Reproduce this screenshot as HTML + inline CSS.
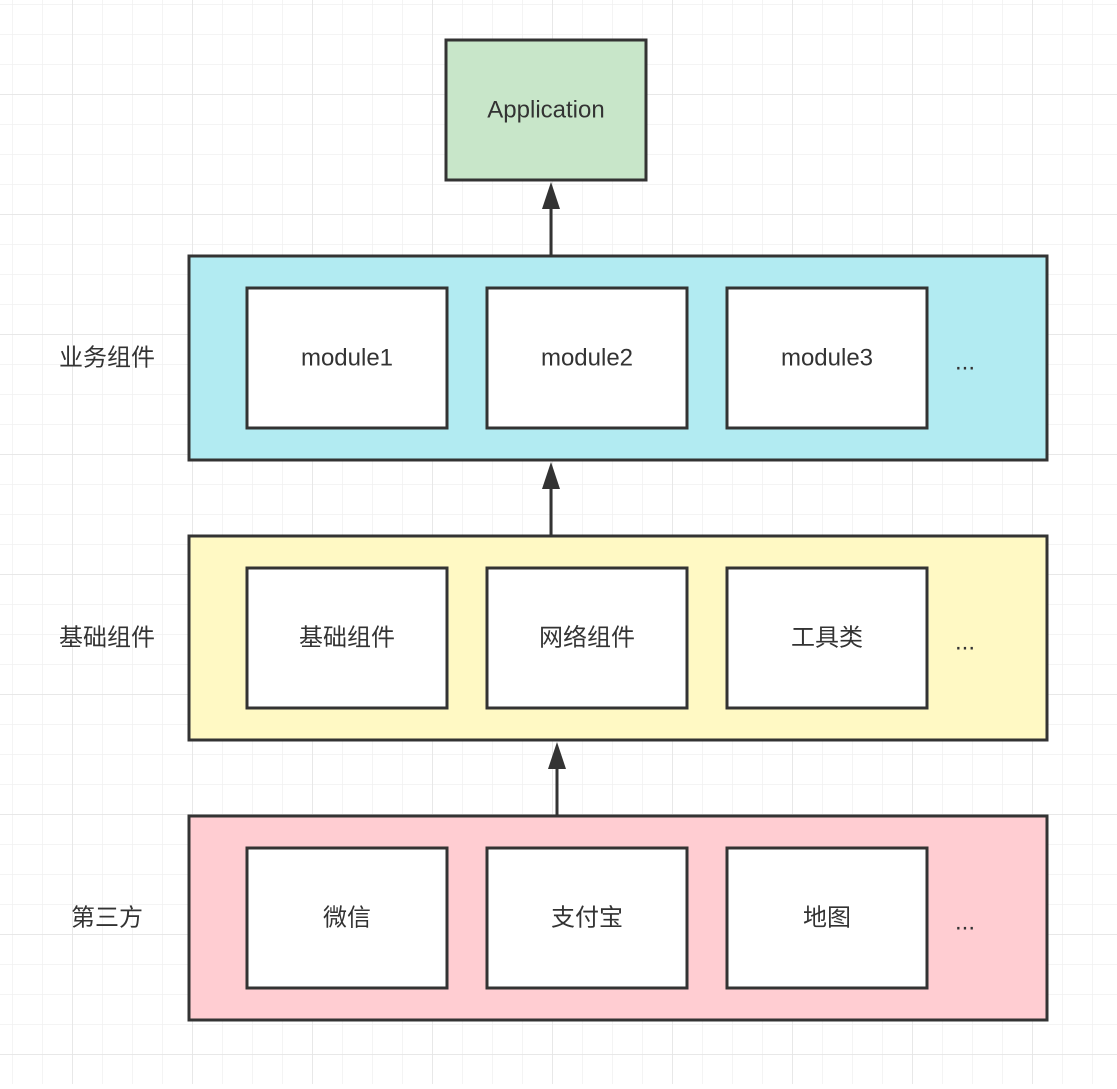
<!DOCTYPE html>
<html><head><meta charset="utf-8"><style>
body{margin:0;width:1117px;height:1084px;overflow:hidden;background:#fff}
</style></head><body>
<svg width="1117" height="1084" xmlns="http://www.w3.org/2000/svg" font-family="Liberation Sans, Noto Sans CJK SC, sans-serif">
<defs>
<pattern id="g" x="12" y="4" width="30" height="30" patternUnits="userSpaceOnUse">
<path d="M0 0H30M0 0V30" stroke="#f0f0f0" stroke-width="1.5" fill="none"/>
</pattern>
<pattern id="G" x="72" y="94" width="120" height="120" patternUnits="userSpaceOnUse">
<path d="M0 0H120M0 0V120" stroke="#e4e4e4" stroke-width="1.5" fill="none"/>
</pattern>
</defs>
<rect width="1117" height="1084" fill="url(#g)"/>
<rect width="1117" height="1084" fill="url(#G)"/>
<g stroke="#333" stroke-width="3">
<rect x="446" y="40" width="200" height="140" fill="#c8e6c9"/>
<rect x="189" y="256" width="858" height="204" fill="#b2ebf2"/>
<rect x="189" y="536" width="858" height="204" fill="#fff9c4"/>
<rect x="189" y="816" width="858" height="204" fill="#ffcdd2"/>
<g fill="#fff">
<rect x="247" y="288" width="200" height="140"/><rect x="487" y="288" width="200" height="140"/><rect x="727" y="288" width="200" height="140"/>
<rect x="247" y="568" width="200" height="140"/><rect x="487" y="568" width="200" height="140"/><rect x="727" y="568" width="200" height="140"/>
<rect x="247" y="848" width="200" height="140"/><rect x="487" y="848" width="200" height="140"/><rect x="727" y="848" width="200" height="140"/>
</g>
<line x1="551" y1="256" x2="551" y2="205"/>
<line x1="551" y1="536" x2="551" y2="485"/>
<line x1="557" y1="816" x2="557" y2="765"/>
</g>
<g fill="#333">
<path d="M551 182 L560 209 L542 209Z"/>
<path d="M551 462 L560 489 L542 489Z"/>
<path d="M557 742 L566 769 L548 769Z"/>
</g>
<g font-size="24" fill="#333" text-anchor="middle" dominant-baseline="central">
<text x="546" y="110">Application</text>
<text x="347" y="358">module1</text><text x="587" y="358">module2</text><text x="827" y="358">module3</text>
<text x="347" y="638">基础组件</text><text x="587" y="638">网络组件</text><text x="827" y="638">工具类</text>
<text x="347" y="918">微信</text><text x="587" y="918">支付宝</text><text x="827" y="918">地图</text>
<text x="965" y="362">...</text><text x="965" y="642">...</text><text x="965" y="922">...</text>
<text x="107" y="358">业务组件</text><text x="107" y="638">基础组件</text><text x="107" y="918">第三方</text>
</g>
</svg>
</body></html>
